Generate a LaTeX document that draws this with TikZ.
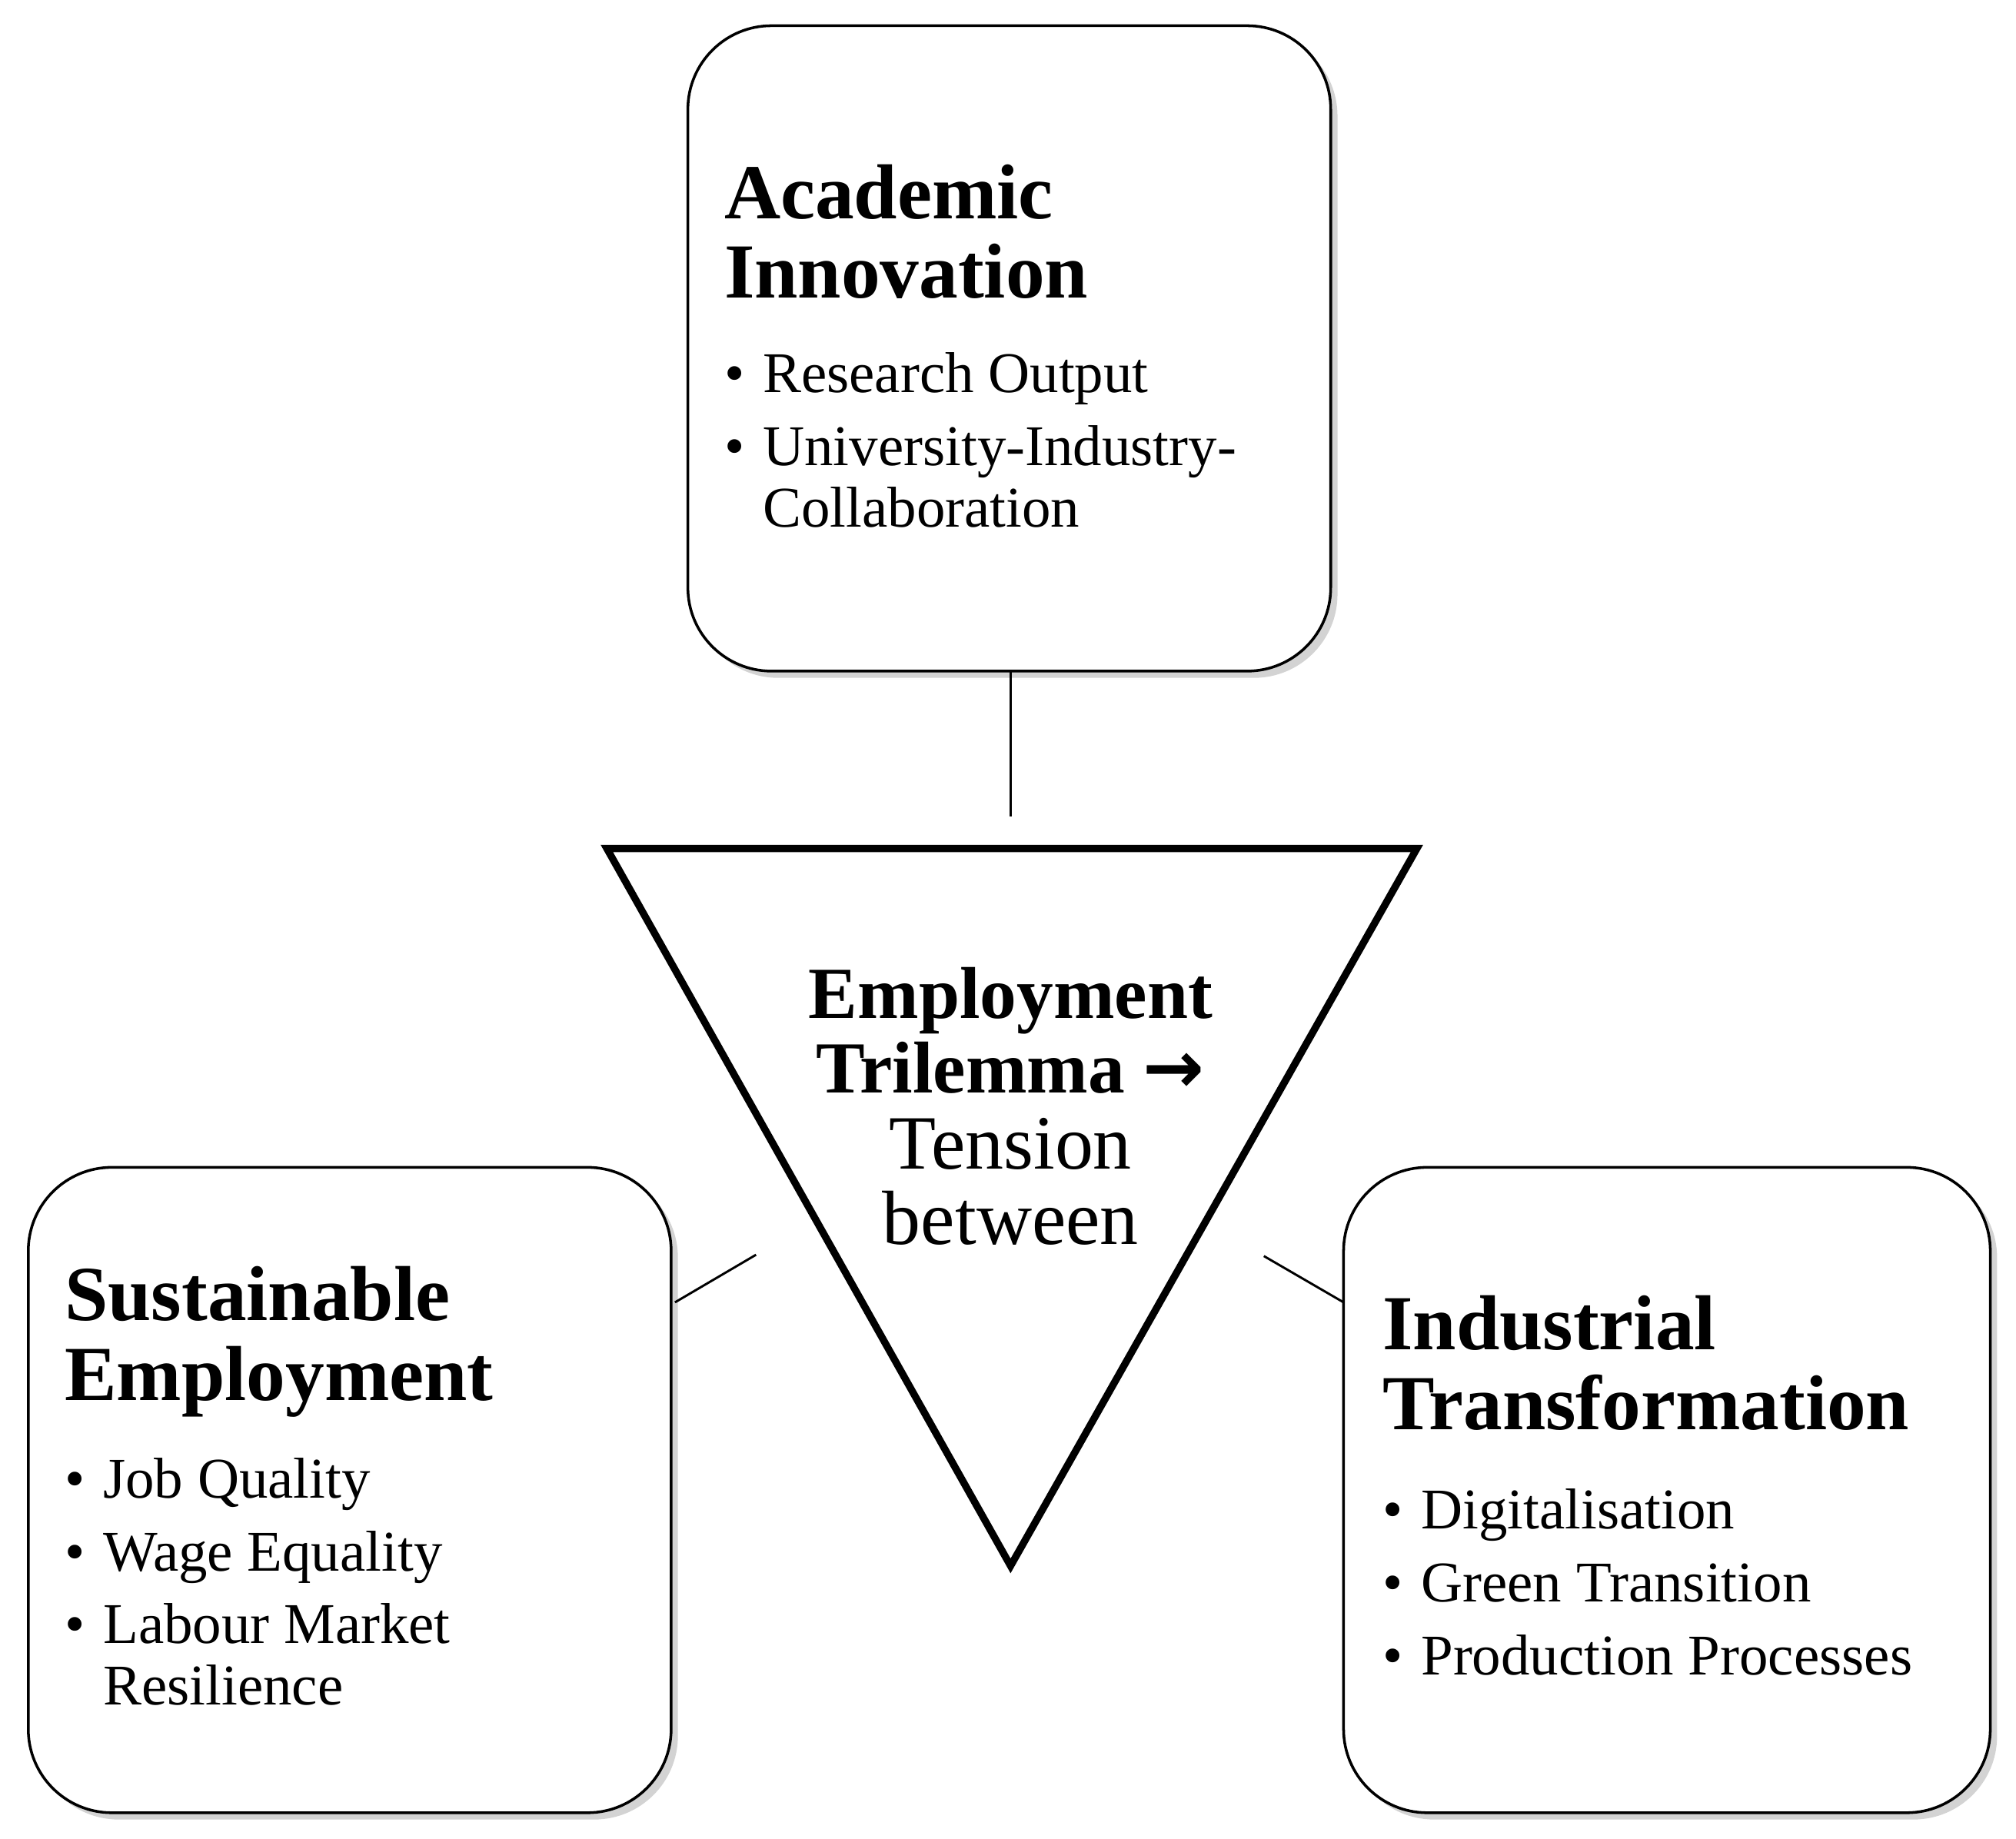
\documentclass[tikz,border=0pt]{standalone}
\usepackage{fontspec}
\setmainfont{Liberation Serif}
\newfontfamily\arrowfont{DejaVu Sans}
\usetikzlibrary{shadows}
\begin{document}
\begin{tikzpicture}[x=0.02cm,y=-0.02cm,
  card/.style={draw=black,line width=1.2pt,fill=white,rounded corners=1.3cm,
    drop shadow={shadow xshift=3pt,shadow yshift=-3pt,opacity=0.35}},
  ttl/.style={anchor=base west,inner sep=0,font=\fontsize{34.5}{40}\selectfont\bfseries},
  itm/.style={anchor=base west,inner sep=0,font=\fontsize{25.5}{30}\selectfont},
  ctr/.style={anchor=base,inner sep=0,font=\fontsize{34}{40}\selectfont},
  conn/.style={line width=1pt}]
\useasboundingbox (0,0) rectangle (1568,1430);
\path[card] (535,20) rectangle (1035,522);
\path[card] (22,908) rectangle (522,1410);
\path[card] (1045,908) rectangle (1548,1410);
\coordinate (ab) at (786,522); \coordinate (tt) at (786,635);
\coordinate (lb) at (525,1013); \coordinate (tl) at (588,976);
\coordinate (rb) at (1045,1013); \coordinate (tr) at (983,977);
\draw[conn] (ab)--(tt); \draw[conn] (lb)--(tl); \draw[conn] (rb)--(tr);
\draw[line width=3.2pt,miter limit=20] (472,660)--(1102,660)--(786,1218)--cycle;
% top
\node[ttl] (a1) at (563,170) {Academic};
\node[ttl] (a2) at (563,232) {Innovation};
\foreach \y/\t [count=\i] in {305/Research Output,362/University-Industry-,410/Collaboration}{
  \node[itm] (at\i) at (593,\y) {\t};}
\node[itm] (ab1) at (563,305) {•}; \node[itm] (ab2) at (563,362) {•};
% center
\node[ctr,font=\fontsize{32.5}{40}\selectfont\bfseries] (c1) at (786,792) {Employment};
\node[ctr,font=\fontsize{32.5}{40}\selectfont\bfseries] (c2) at (786,850) {Trilemma {\arrowfont →}};
\node[ctr] (c3) at (786,909) {Tension};
\node[ctr] (c4) at (786,968) {between};
% left
\node[ttl] (s1) at (50,1027) {Sustainable};
\node[ttl] (s2) at (50,1089) {Employment};
\foreach \y/\t [count=\i] in {1165/Job Quality,1222/Wage Equality,1278/Labour Market,1326/Resilience}{
  \node[itm] (st\i) at (80,\y) {\t};}
\foreach \y [count=\i] in {1165,1222,1278}{\node[itm] (sb\i) at (50,\y) {•};}
% right
\node[ttl] (r1) at (1075,1050) {Industrial};
\node[ttl] (r2) at (1075,1112) {Transformation};
\foreach \y/\t [count=\i] in {1189/Digitalisation,1246/Green Transition,1303/Production Processes}{
  \node[itm] (rt\i) at (1105,\y) {\t};
  \node[itm] (rb\i) at (1075,\y) {•};}
\end{tikzpicture}
\end{document}
